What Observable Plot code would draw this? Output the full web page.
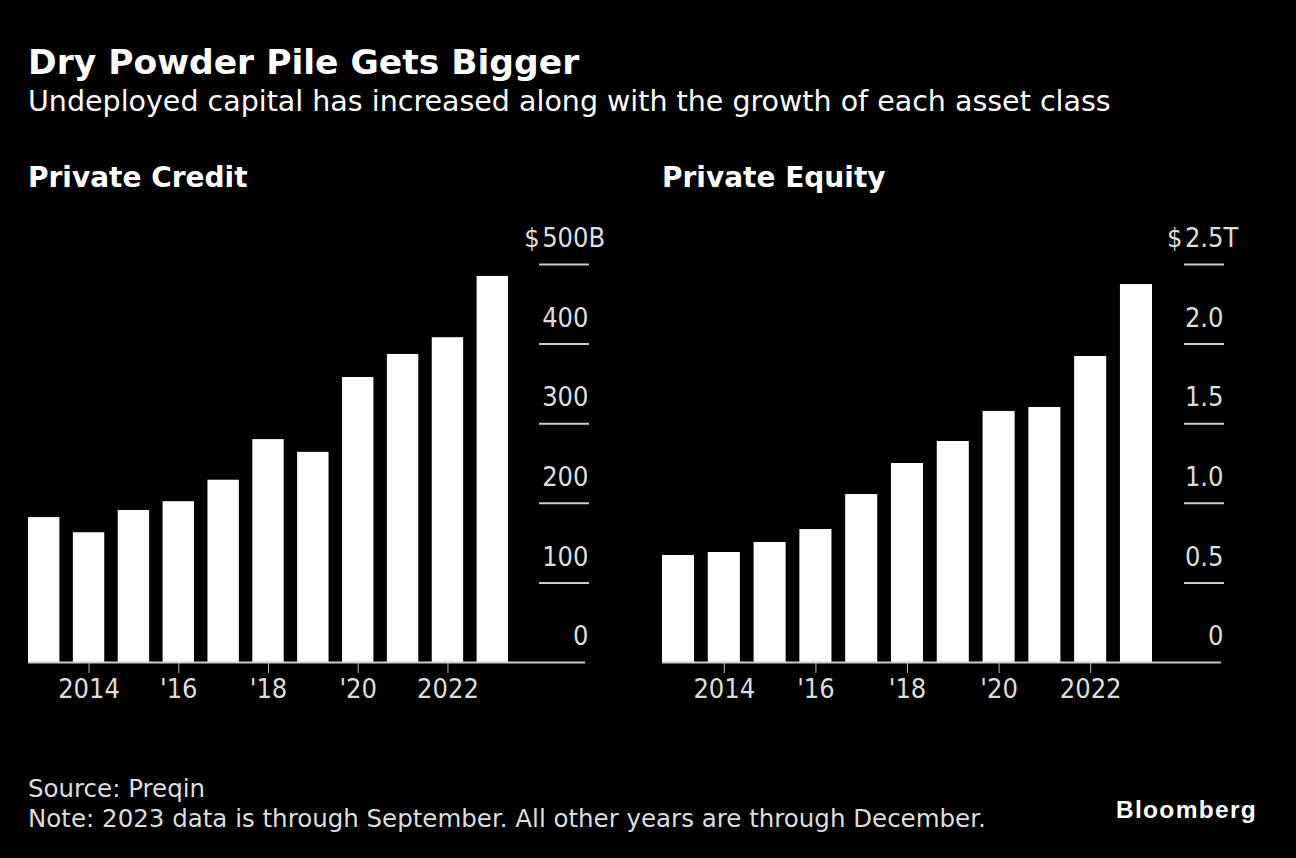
<!DOCTYPE html>
<html>
<head>
<meta charset="utf-8">
<script src="https://cdn.jsdelivr.net/npm/d3@7"></script>
<script src="https://cdn.jsdelivr.net/npm/@observablehq/plot@0.6"></script>
<style>
  html, body { margin: 0; padding: 0; background: #000; }
  #root { position: relative; width: 1296px; height: 858px; background: #000; overflow: hidden;
          font-family: "DejaVu Sans", sans-serif; color: #fff; }
  .abs { position: absolute; white-space: nowrap; line-height: 1; }
  #title { left: 28px; top: 45px; font-size: 34.5px; font-weight: bold; }
  #subtitle { left: 28px; top: 88px; font-size: 28.5px; }
  .ptitle { top: 164px; font-size: 28px; font-weight: bold; }
  #src { left: 28px; top: 777px; font-size: 24.5px; color: #ddd; }
  #note { left: 28px; top: 807px; font-size: 24.5px; color: #ddd; }
  #logo { left: 1116px; top: 798px; font-family: "Liberation Sans", Arial, sans-serif; font-size: 24.5px; font-weight: bold; letter-spacing: 1.3px; }
  .plot { position: absolute; top: 220px; }
</style>
</head>
<body>
<div id="root">
  <div id="title" class="abs">Dry Powder Pile Gets Bigger</div>
  <div id="subtitle" class="abs">Undeployed capital has increased along with the growth of each asset class</div>
  <div class="abs ptitle" style="left:28px">Private Credit</div>
  <div class="abs ptitle" style="left:662px">Private Equity</div>
  <div id="left" class="plot" style="left:0px"></div>
  <div id="right" class="plot" style="left:640px"></div>
  <div id="src" class="abs">Source: Preqin</div>
  <div id="note" class="abs">Note: 2023 data is through September. All other years are through December.</div>
  <div id="logo" class="abs">Bloomberg</div>
</div>
<script>
// ---- data ----
const years = [2013, 2014, 2015, 2016, 2017, 2018, 2019, 2020, 2021, 2022, 2023];
const creditDryPowder = [182, 163, 191, 202, 229, 280, 264, 358, 387, 408, 485];      // $B
const equityDryPowder = [0.672, 0.691, 0.754, 0.835, 1.055, 1.25, 1.388, 1.577, 1.602, 1.922, 2.374]; // $T
const xTicks = [2014, 2016, 2018, 2020, 2022];
const xTickLabels = ["2014", "'16", "'18", "'20", "2022"];
const creditTicks = [0, 100, 200, 300, 400, 500];
const creditTickLabels = ["0", "100", "200", "300", "400", "$\u200A500"];
const creditUnit = "B";
const equityTicks = [0, 0.5, 1.0, 1.5, 2.0, 2.5];
const equityTickLabels = ["0", "0.5", "1.0", "1.5", "2.0", "$\u200A2.5"];
const equityUnit = "T";

const FONT = '"DejaVu Sans Condensed", "DejaVu Sans", sans-serif';

function panel({values, ticks, tickLabels, unit, marginLeft, barRangeEnd, frameRight, tickLen, baseExtend}) {
  const W = 640, H = 510;
  const data = years.map((y, i) => ({year: y, value: values[i]}));
  const top = ticks[ticks.length - 1];
  return Plot.plot({
    width: W,
    height: H,
    marginLeft: marginLeft,
    marginRight: W - frameRight,
    marginTop: 44,
    marginBottom: 68,
    style: {background: "#000", color: "#ddd", fontFamily: FONT, fontSize: "27px", overflow: "visible"},
    x: {type: "band", domain: years, range: [marginLeft, barRangeEnd], paddingInner: 0.3, paddingOuter: 0, round: false},
    y: {domain: [0, top]},
    marks: [
      Plot.barY(data, {x: "year", y: "value", fill: "#fff"}),
      Plot.ruleY([0], {stroke: "#ccc", strokeWidth: 2, insetRight: -baseExtend}),
      // y tick lines (right side, above zero)
      Plot.axisY({anchor: "right", ticks: ticks.slice(1), tickSize: tickLen, tickFormat: () => "",
                  stroke: "#ccc", strokeWidth: 2, label: null}),
      // y tick labels, above each line
      Plot.axisY({anchor: "right", ticks: ticks, tickSize: 0, tickPadding: 0, textAnchor: "end",
                  dx: tickLen, dy: -26, fill: "#ddd", fontSize: 27, label: null,
                  tickFormat: (d) => tickLabels[ticks.indexOf(d)]}),
      Plot.text([top], {y: (d) => d, frameAnchor: "right", dx: tickLen, dy: -26, text: () => unit,
                        textAnchor: "start", fill: "#ddd", fontSize: 27}),
      Plot.axisX({ticks: xTicks, tickSize: 11, tickPadding: 5, stroke: "#bbb", fill: "#ddd", fontSize: 27,
                  label: null, tickFormat: (d) => xTickLabels[xTicks.indexOf(d)]})
    ]
  });
}

document.getElementById("left").append(panel({
  values: creditDryPowder, ticks: creditTicks, tickLabels: creditTickLabels, unit: creditUnit,
  marginLeft: 28, barRangeEnd: 508, frameRight: 538, tickLen: 50, baseExtend: 47
}));
document.getElementById("right").append(panel({
  values: equityDryPowder, ticks: equityTicks, tickLabels: equityTickLabels, unit: equityUnit,
  marginLeft: 22, barRangeEnd: 512, frameRight: 543, tickLen: 40, baseExtend: 38
}));
</script>
</body>
</html>
